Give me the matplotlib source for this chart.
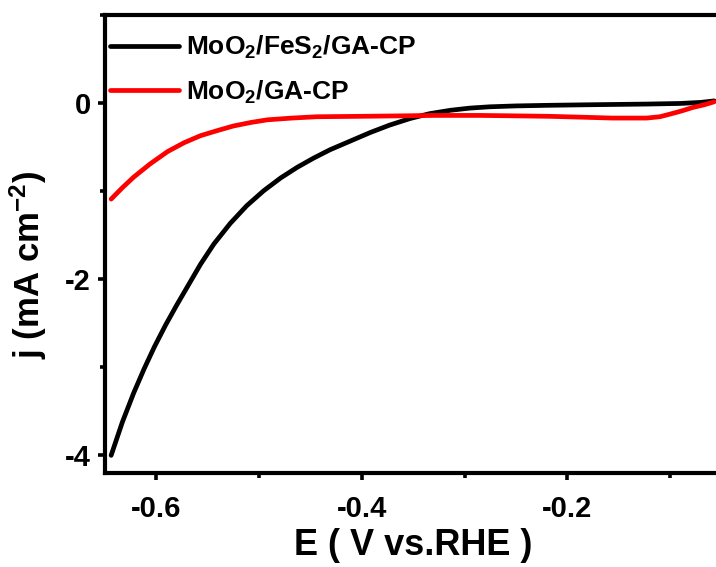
import matplotlib
matplotlib.use("Agg")
import matplotlib.pyplot as plt
from matplotlib.ticker import MultipleLocator

# polarization curves, potential (V vs. RHE) and current density (mA cm^-2)
e_fes2 = [-0.644, -0.633, -0.622, -0.612, -0.602, -0.591, -0.580, -0.570, -0.557,
          -0.544, -0.528, -0.512, -0.4955, -0.479, -0.463, -0.447, -0.431, -0.411,
          -0.392, -0.373, -0.353, -0.334, -0.314, -0.295, -0.2755, -0.250, -0.218,
          -0.180, -0.123, -0.090, -0.070, -0.057]
j_fes2 = [-4.00, -3.62, -3.29, -3.02, -2.77, -2.52, -2.29, -2.09, -1.83,
          -1.60, -1.365, -1.165, -0.995, -0.85, -0.73, -0.625, -0.53, -0.43,
          -0.335, -0.25, -0.175, -0.12, -0.082, -0.057, -0.042, -0.032, -0.025,
          -0.019, -0.011, -0.004, 0.008, 0.025]

e_moo2 = [-0.644, -0.633, -0.622, -0.606, -0.589, -0.573, -0.557, -0.540, -0.525,
          -0.508, -0.492, -0.468, -0.444, -0.400, -0.363, -0.330, -0.285, -0.250,
          -0.218, -0.186, -0.156, -0.123, -0.110, -0.100, -0.089, -0.078, -0.067,
          -0.057]
j_moo2 = [-1.09, -0.96, -0.84, -0.69, -0.55, -0.45, -0.37, -0.31, -0.26,
          -0.22, -0.19, -0.17, -0.155, -0.15, -0.145, -0.14, -0.14, -0.145,
          -0.15, -0.16, -0.17, -0.17, -0.155, -0.125, -0.09, -0.05, -0.02,
          0.015]

labels = ["MoO$_2$/FeS$_2$/GA-CP", "MoO$_2$/GA-CP"]
colors = ["#000000", "#ff0000"]

plt.rcParams["font.family"] = ["Liberation Sans", "DejaVu Sans"]
plt.rcParams["font.weight"] = "bold"
plt.rcParams["mathtext.fontset"] = "custom"
plt.rcParams["mathtext.rm"] = "Liberation Sans:bold"
plt.rcParams["mathtext.it"] = "Liberation Sans:bold"
plt.rcParams["mathtext.bf"] = "Liberation Sans:bold"
plt.rcParams["axes.unicode_minus"] = False

fig = plt.figure(figsize=(7.16, 5.67), dpi=100)
ax = fig.add_axes([0.1466, 0.1658, 0.861, 0.8077])

ax.plot(e_fes2, j_fes2, color=colors[0], lw=3.4, label=labels[0],
        solid_capstyle="round", solid_joinstyle="round")
ax.plot(e_moo2, j_moo2, color=colors[1], lw=3.4, label=labels[1],
        solid_capstyle="round", solid_joinstyle="round")

ax.set_xlim(-0.65, -0.05)
ax.set_ylim(-4.2, 1.0)
ax.xaxis.set_major_locator(MultipleLocator(0.2))
ax.xaxis.set_minor_locator(MultipleLocator(0.1))
ax.yaxis.set_major_locator(MultipleLocator(2))
ax.yaxis.set_minor_locator(MultipleLocator(1))
ax.xaxis.set_major_formatter(plt.FuncFormatter(lambda v, p: f"{v:.1f}"))
ax.yaxis.set_major_formatter(plt.FuncFormatter(lambda v, p: f"{v:.0f}"))

for s in ax.spines.values():
    s.set_linewidth(3.0)
ax.tick_params(which="major", direction="out", length=5, width=2.6,
               labelsize=21, pad=10.5)
ax.tick_params(which="minor", direction="out", length=3.5, width=2.6)
ax.tick_params(axis="y", which="major", pad=5)

ax.set_xlabel("E ( V vs.RHE )", fontsize=26, fontweight="bold", labelpad=4)
ax.set_ylabel("j (mA cm$^{-2}$)", fontsize=25, fontweight="bold")
ax.yaxis.set_label_coords(-0.09, 0.454)

ax.legend(loc="upper left", frameon=False, fontsize=19, handlelength=2.6,
          handletextpad=0.28, labelspacing=0.66, borderpad=0, borderaxespad=0,
          bbox_to_anchor=(0.008, 0.959))

fig.savefig("out.png", dpi=100)
